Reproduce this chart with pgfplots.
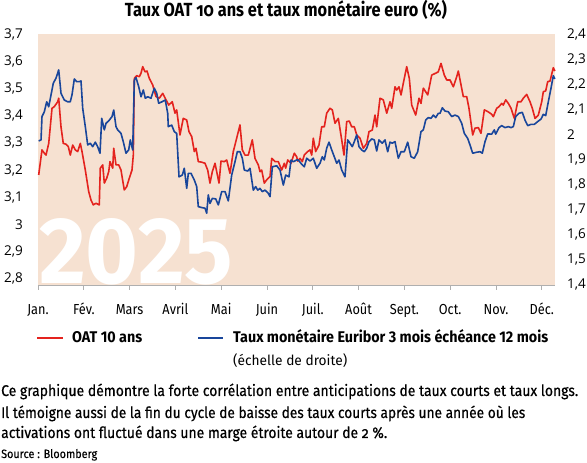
\documentclass[border=0pt]{standalone}
\usepackage{pgfplots}
\pgfplotsset{compat=1.18}
\usepackage{fontspec}
\setmainfont{Fira Sans}
\newfontfamily\tickfont{Open Sans}
\definecolor{bgc}{RGB}{246,225,209}
\definecolor{oat}{RGB}{228,35,30}
\definecolor{eur}{RGB}{25,70,155}
\definecolor{axg}{RGB}{175,175,175}
\newcommand\ml[1]{\scalebox{0.88}[1]{#1}}
\begin{document}
\begin{tikzpicture}[x=1pt,y=1pt]
\path[use as bounding box] (0,0) rectangle (587,463);
\fill[bgc] (38,178) rectangle (555,429);
\node[anchor=south west, inner sep=0pt, text=white] at (39,178) {\resizebox{194pt}{65pt}{\bfseries 2025}};
\begin{axis}[at={(38pt,178pt)}, anchor=south west, scale only axis,
  width=517pt, height=251pt,
  xmin=0, xmax=11.288, ymin=2.7776, ymax=3.7,
  axis x line*=bottom, axis y line*=left,
  x axis line style={draw=axg, line width=0.8pt, -},
  y axis line style={draw=none},
  xtick={0,1,2,3,4,5,6,7,8,9,10,11},
  xticklabels={\ml{Jan.},\ml{Fév.},\ml{Mars},\ml{Avril},\ml{Mai},\ml{Juin},\ml{Juil.},\ml{Août},\ml{Sept.},\ml{Oct.},\ml{Nov.},\ml{Déc.}},
  xtick style={draw=axg, line width=0.8pt},
  tick align=outside, major tick length=5pt,
  ytick={2.8,2.9,3.0,3.1,3.2,3.3,3.4,3.5,3.6,3.7},
  ytick style={draw=none},
  /pgf/number format/.cd, use comma, fixed, precision=1, assume math mode=true,
  /pgfplots/.cd,
  yticklabel style={font=\tickfont\fontsize{13.5}{15}\selectfont, inner sep=0pt, anchor=east, xshift=-10pt},
  xticklabel style={font=\fontsize{14.5}{16}\selectfont, inner sep=0pt, anchor=base, yshift=-25pt},
  clip=false]
\addplot[oat, line width=1.6pt, line join=round] coordinates {
(0.015,3.182)(0.087,3.274)(0.138,3.262)(0.175,3.255)(0.234,3.298)(0.306,3.427)(0.356,3.433)(0.430,3.451)(0.452,3.464)(0.502,3.359)
(0.552,3.298)(0.611,3.295)(0.662,3.286)(0.705,3.255)(0.758,3.292)(0.814,3.274)(0.867,3.268)(0.924,3.298)(0.961,3.268)(1.033,3.200)
(1.107,3.121)(1.157,3.090)(1.207,3.072)(1.266,3.078)(1.338,3.072)(1.360,3.207)(1.413,3.219)(1.448,3.152)(1.500,3.170)(1.544,3.194)
(1.572,3.231)(1.631,3.207)(1.653,3.280)(1.703,3.219)(1.762,3.219)(1.812,3.200)(1.884,3.127)(1.937,3.139)(1.993,3.170)(2.052,3.200)
(2.081,3.255)(2.103,3.537)(2.155,3.547)(2.212,3.543)(2.249,3.556)(2.286,3.580)(2.336,3.561)(2.380,3.564)(2.430,3.537)(2.504,3.513)
(2.576,3.470)(2.648,3.464)(2.723,3.482)(2.795,3.458)(2.854,3.439)(2.932,3.451)(2.991,3.409)(3.028,3.421)(3.100,3.329)(3.172,3.390)
(3.247,3.384)(3.297,3.341)(3.356,3.323)(3.413,3.268)(3.450,3.280)(3.500,3.231)(3.574,3.229)(3.646,3.225)(3.705,3.200)(3.755,3.152)
(3.806,3.194)(3.865,3.225)(3.952,3.152)(3.996,3.233)(4.068,3.231)(4.120,3.237)(4.192,3.188)(4.264,3.268)(4.338,3.317)(4.410,3.366)
(4.461,3.274)(4.520,3.255)(4.592,3.255)(4.679,3.311)(4.738,3.243)(4.810,3.219)(4.847,3.194)(4.884,3.200)(4.941,3.152)(4.993,3.164)
(5.066,3.176)(5.103,3.243)(5.175,3.231)(5.247,3.231)(5.321,3.200)(5.378,3.225)(5.408,3.207)(5.452,3.237)(5.524,3.225)(5.596,3.262)
(5.648,3.249)(5.670,3.233)(5.721,3.243)(5.771,3.231)(5.814,3.255)(5.889,3.268)(5.939,3.274)(5.976,3.255)(6.011,3.317)(6.063,3.268)
(6.135,3.292)(6.194,3.359)(6.251,3.359)(6.303,3.409)(6.376,3.427)(6.426,3.421)(6.485,3.372)(6.557,3.390)(6.631,3.311)(6.681,3.255)
(6.740,3.378)(6.797,3.380)(6.849,3.359)(6.906,3.359)(6.959,3.329)(7.031,3.317)(7.103,3.280)(7.177,3.298)(7.227,3.341)(7.299,3.347)
(7.358,3.402)(7.395,3.359)(7.467,3.464)(7.539,3.458)(7.614,3.409)(7.686,3.451)(7.723,3.427)(7.795,3.506)(7.832,3.494)(7.882,3.506)
(7.926,3.476)(7.976,3.519)(8.050,3.580)(8.107,3.537)(8.159,3.439)(8.247,3.402)(8.319,3.464)(8.362,3.445)(8.413,3.501)(8.487,3.482)
(8.509,3.476)(8.596,3.549)(8.683,3.556)(8.740,3.561)(8.799,3.592)(8.871,3.549)(8.924,3.531)(8.996,3.531)(9.068,3.506)(9.142,3.543)
(9.177,3.564)(9.236,3.513)(9.286,3.470)(9.360,3.470)(9.410,3.427)(9.491,3.329)(9.541,3.354)(9.614,3.356)(9.672,3.335)(9.745,3.421)
(9.819,3.415)(9.906,3.405)(9.941,3.396)(10.015,3.427)(10.066,3.433)(10.124,3.445)(10.159,3.439)(10.212,3.458)(10.269,3.445)(10.328,3.427)
(10.400,3.390)(10.474,3.451)(10.546,3.451)(10.596,3.464)(10.670,3.478)(10.742,3.451)(10.793,3.427)(10.852,3.390)(10.924,3.402)(10.998,3.451)
(11.033,3.488)(11.085,3.491)(11.129,3.525)(11.179,3.527)(11.251,3.576)(11.285,3.564)
};
\end{axis}
\begin{axis}[at={(38pt,178pt)}, anchor=south west, scale only axis,
  width=517pt, height=251pt,
  xmin=0, xmax=11.288, ymin=1.4, ymax=2.4,
  axis x line=none, axis y line*=right, xtick=\empty,
  y axis line style={draw=none},
  ytick={1.4,1.5,1.6,1.7,1.8,1.9,2.0,2.1,2.2,2.3,2.4},
  ytick style={draw=none},
  /pgf/number format/.cd, use comma, fixed, precision=1, assume math mode=true,
  /pgfplots/.cd,
  yticklabel style={font=\tickfont\fontsize{13.5}{15}\selectfont, inner sep=0pt, anchor=west, xshift=12pt},
  clip=false]
\addplot[eur, line width=1.6pt, line join=round] coordinates {
(0.015,1.974)(0.066,1.978)(0.087,2.071)(0.138,2.090)(0.190,2.130)(0.234,2.110)(0.284,2.157)(0.334,2.204)(0.393,2.224)(0.452,2.257)
(0.502,2.164)(0.574,2.137)(0.648,2.130)(0.705,2.130)(0.742,2.157)(0.793,2.221)(0.845,2.210)(0.902,2.210)(0.939,2.213)(0.976,2.104)
(1.033,2.031)(1.085,1.958)(1.142,1.965)(1.194,1.951)(1.251,1.969)(1.303,1.951)(1.354,1.925)(1.391,2.064)(1.448,2.018)(1.485,2.044)
(1.557,2.057)(1.616,2.071)(1.653,2.097)(1.703,2.031)(1.740,2.018)(1.812,2.004)(1.862,1.971)(1.921,1.925)(1.980,1.938)(2.015,1.978)
(2.068,1.938)(2.103,2.217)(2.140,2.226)(2.199,2.190)(2.249,2.150)(2.299,2.177)(2.343,2.144)(2.395,2.150)(2.467,2.144)(2.539,2.184)
(2.592,2.164)(2.635,2.124)(2.707,2.130)(2.779,2.137)(2.832,2.084)(2.845,2.031)(2.919,2.037)(2.976,2.011)(3.028,2.004)(3.079,1.831)
(3.151,1.838)(3.194,1.865)(3.247,1.785)(3.282,1.845)(3.341,1.845)(3.413,1.818)(3.465,1.792)(3.500,1.712)(3.587,1.708)(3.646,1.706)
(3.683,1.686)(3.718,1.759)(3.755,1.725)(3.806,1.745)(3.880,1.743)(3.937,1.719)(4.011,1.772)(4.083,1.772)(4.155,1.735)(4.229,1.838)
(4.301,1.891)(4.352,1.931)(4.410,1.931)(4.461,1.905)(4.504,1.858)(4.579,1.854)(4.629,1.865)(4.701,1.778)(4.753,1.792)(4.797,1.778)
(4.847,1.785)(4.897,1.772)(4.956,1.778)(5.028,1.765)(5.066,1.752)(5.116,1.871)(5.212,1.875)(5.284,1.858)(5.356,1.798)(5.408,1.838)
(5.480,1.831)(5.524,1.898)(5.574,1.891)(5.648,1.898)(5.683,1.898)(5.758,1.881)(5.814,1.871)(5.867,1.905)(5.939,1.894)(6.011,1.905)
(6.085,1.865)(6.157,1.885)(6.207,1.911)(6.251,1.898)(6.303,1.945)(6.354,1.969)(6.413,1.938)(6.469,1.911)(6.522,1.885)(6.572,1.898)
(6.631,1.858)(6.703,1.831)(6.762,1.978)(6.812,1.965)(6.862,1.951)(6.906,1.971)(6.959,1.998)(7.009,1.951)(7.068,1.938)(7.124,1.931)
(7.177,1.945)(7.227,1.971)(7.286,1.982)(7.343,1.978)(7.395,1.934)(7.445,1.978)(7.517,1.965)(7.576,1.978)(7.635,1.931)(7.686,1.969)
(7.736,1.965)(7.795,1.971)(7.867,1.905)(7.926,1.931)(7.998,1.931)(8.072,1.969)(8.144,1.911)(8.216,1.905)(8.290,1.931)(8.362,2.011)
(8.413,2.018)(8.465,2.057)(8.522,2.067)(8.581,2.064)(8.631,2.077)(8.684,2.067)(8.740,2.084)(8.777,2.084)(8.828,2.106)(8.886,2.093)
(8.959,2.090)(9.033,2.071)(9.105,2.077)(9.177,2.071)(9.251,2.044)(9.308,2.004)(9.382,1.984)(9.432,1.958)(9.491,1.925)(9.579,1.929)
(9.651,1.931)(9.701,1.925)(9.760,1.971)(9.819,2.002)(9.906,2.001)(9.963,2.018)(9.993,2.001)(10.066,2.027)(10.124,2.035)(10.197,2.027)
(10.269,2.031)(10.328,2.027)(10.378,2.031)(10.430,2.071)(10.502,2.084)(10.574,2.088)(10.633,2.057)(10.692,2.035)(10.764,2.040)(10.836,2.040)
(10.910,2.051)(10.983,2.061)(11.033,2.080)(11.085,2.075)(11.142,2.130)(11.201,2.184)(11.251,2.234)(11.285,2.221)
};
\end{axis}
% title
\node[anchor=base, inner sep=0pt] at (286,446) {\resizebox{322pt}{\height}{\bfseries\fontsize{19}{22}\selectfont Taux OAT {\addfontfeatures{Numbers=OldStyle}10} ans et taux monétaire euro (\%)}};
% legend
\draw[oat, line width=1.5pt] (37,125) -- (63,125);
\node[anchor=base west, inner sep=0pt] at (72,120) {\resizebox{70pt}{\height}{\bfseries\fontsize{15.5}{18}\selectfont OAT 10 ans}};
\draw[eur, line width=1.5pt] (198,125) -- (223,125);
\node[anchor=base west, inner sep=0pt] at (233,120) {\resizebox{315pt}{\height}{\bfseries\fontsize{15.5}{18}\selectfont Taux monétaire Euribor 3 mois échéance 12 mois}};
\node[anchor=base west, inner sep=0pt] at (233,97) {\resizebox{114pt}{\height}{\fontsize{14}{17}\selectfont (échelle de droite)}};
% caption
\node[anchor=base west, inner sep=0pt] at (1,67) {\resizebox{577pt}{\height}{\fontsize{15.5}{18}\selectfont\addfontfeatures{Numbers=OldStyle,FakeBold=0.5} Ce graphique démontre la forte corrélation entre anticipations de taux courts et taux longs.}};
\node[anchor=base west, inner sep=0pt] at (1,45) {\resizebox{524pt}{\height}{\fontsize{15.5}{18}\selectfont\addfontfeatures{Numbers=OldStyle,FakeBold=0.5} Il témoigne aussi de la fin du cycle de baisse des taux courts après une année où les}};
\node[anchor=base west, inner sep=0pt] at (1,25) {\resizebox{386pt}{\height}{\fontsize{15.5}{18}\selectfont\addfontfeatures{Numbers=OldStyle,FakeBold=0.5} activations ont fluctué dans une marge étroite autour de 2~\%.}};
\node[anchor=base west, inner sep=0pt] at (1,5) {\resizebox{96pt}{\height}{\fontsize{12}{14}\selectfont\addfontfeatures{FakeBold=0.3} Source : Bloomberg}};
\end{tikzpicture}
\end{document}
